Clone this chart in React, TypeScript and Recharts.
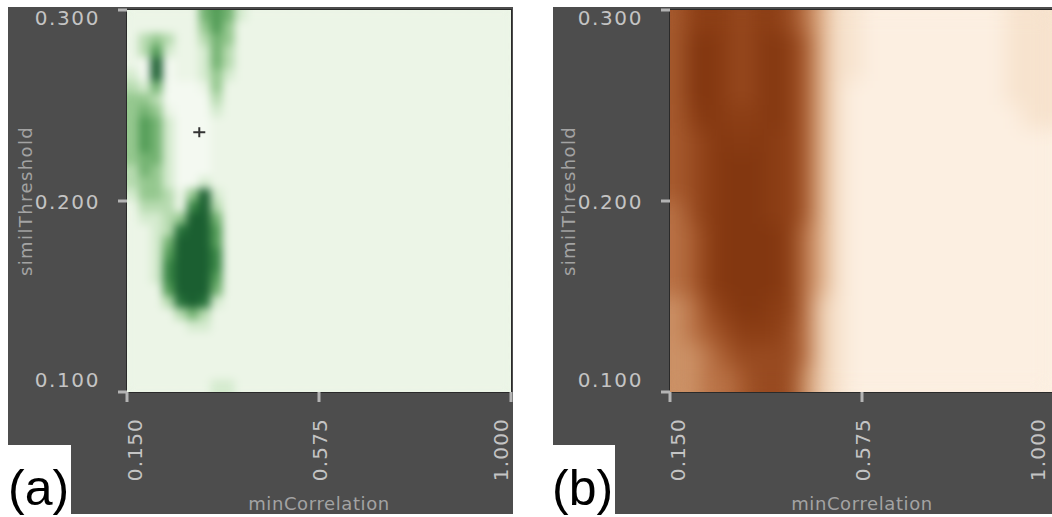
import { ReferenceArea, Scatter, ScatterChart, XAxis, YAxis } from 'recharts';

// axis ranges and ticks
const corrTicks = [0.15, 0.575, 1.0];
const threshTicks = [0.1, 0.2, 0.3];

// (a) 32 x 32 cells, top row first, one digit = colour level 0..9
const gridA = [
  '11111156521111111111111111111111',
  '11111146411111111111111111111111',
  '13431135411111111111111111111111',
  '13621125311111111111111111111111',
  '10901125311111111111111111111111',
  '20901124211111111111111111111111',
  '32500014111111111111111111111111',
  '44300003111111111111111111111111',
  '45410002111111111111111111111111',
  '46520001111111111111111111111111',
  '46520001111111111111111111111111',
  '46520001111111111111111111111111',
  '45520001111111111111111111111111',
  '35420001111111111111111111111111',
  '34420021111111111111111111111111',
  '24431492111111111111111111111111',
  '13331793111111111111111111111111',
  '12234995111111111111111111111111',
  '11238996111111111111111111111111',
  '11259996111111111111111111111111',
  '11269997111111111111111111111111',
  '11279997111111111111111111111111',
  '11279996111111111111111111111111',
  '11169995111111111111111111111111',
  '11138982111111111111111111111111',
  '11113531111111111111111111111111',
  '11111221111111111111111111111111',
  '11111111111111111111111111111111',
  '11111111111111111111111111111111',
  '11111111111111111111111111111111',
  '11111111111111111111111111111111',
  '11111112211111111111111111111111',
];

// (b) 24 x 16 cells
const gridB = [
  '688878875311000000000111',
  '699878986311000000000111',
  '699878986311000000000111',
  '699878986310000000000111',
  '689888986310000000000011',
  '678989886310000000000000',
  '678999886310000000000000',
  '678999886310000000000000',
  '578999886310000000000000',
  '568999985310000000000000',
  '568999985310000000000000',
  '568999985310000000000000',
  '457899885210000000000000',
  '456788875210000000000000',
  '445677775210000000000000',
  '445567774210000000000000',
];

const markerA = [{ x: 0.31, y: 0.236 }];

const greens = ['#f4f9f1', '#ecf5e7', '#d5ebcf', '#b7dbb0', '#95c88f', '#74b372', '#549d58', '#3a8746', '#27723a', '#1b5f31'];
const browns = ['#fcefe1', '#f7e3ce', '#eecfb2', '#dfb08a', '#cb9065', '#b97246', '#a75b2f', '#984a20', '#8c3e15', '#833710'];

const PLOT_W = 384;
const PLOT_H = 382;
const TOP = 3;
const X_AXIS_H = 122;
const RIGHT = 2;
const TICK_COLOR = '#c4c4c4';
const TITLE_COLOR = '#a3a3a3';
const FONT = '"DejaVu Sans", sans-serif';

function cellsFrom(rows: string[]) {
  return rows.flatMap((row, r) =>
    row.split('').map((ch, c) => ({
      x: 0.15 + ((c + 0.5) * 0.85) / row.length,
      y: 0.3 - ((r + 0.5) * 0.2) / rows.length,
      v: Number(ch),
    }))
  );
}

const yShift: Record<string, number> = { '0.1': -5, '0.2': 8, '0.3': 15 };

function CorrTick(props: any) {
  const { x, payload, index, shifts } = props;
  const bx = x + shifts[index];
  const by = TOP + PLOT_H + 26;
  return (
    <text
      transform={`translate(${bx},${by}) rotate(-90)`}
      textAnchor="end"
      fill={TICK_COLOR}
      fontSize={20}
      letterSpacing={1.2}
      fontFamily={FONT}
    >
      {Number(payload.value).toFixed(3)}
    </text>
  );
}

function ThreshTick(props: any) {
  const { y, payload, left } = props;
  return (
    <text
      x={left - 27}
      y={y + (yShift[String(payload.value)] ?? 7)}
      textAnchor="end"
      fill={TICK_COLOR}
      fontSize={20}
      letterSpacing={1.6}
      fontFamily={FONT}
    >
      {Number(payload.value).toFixed(3)}
    </text>
  );
}

function Cross(props: any) {
  const { cx, cy } = props;
  return (
    <g stroke="#333" strokeWidth={2}>
      <line x1={cx - 6} y1={cy} x2={cx + 6} y2={cy} />
      <line x1={cx} y1={cy - 5} x2={cx} y2={cy + 5} />
    </g>
  );
}

type PanelProps = {
  id: string;
  rows: string[];
  colors: string[];
  blur: number;
  yAxisWidth: number;
  left: number;
  shifts: number[];
  marker?: { x: number; y: number }[];
};

function Panel({ id, rows, colors, blur, yAxisWidth, left, shifts, marker }: PanelProps) {
  const data = cellsFrom(rows);
  const cw = PLOT_W / rows[0].length;
  const ch = PLOT_H / rows.length;
  const width = yAxisWidth + PLOT_W + RIGHT;
  const height = TOP + PLOT_H + X_AXIS_H;

  const cell = (p: any) => (
    <rect
      x={p.cx - cw / 2 - 0.5}
      y={p.cy - ch / 2 - 0.5}
      width={cw + 1}
      height={ch + 1}
      fill={colors[p.payload.v]}
    />
  );

  return (
    <div style={{ position: 'absolute', left, top: 7, width, height, background: '#4d4d4d' }}>
      <svg width={0} height={0} style={{ position: 'absolute' }}>
        <defs>
          <filter
            id={`blur-${id}`}
            filterUnits="userSpaceOnUse"
            x={yAxisWidth}
            y={TOP}
            width={PLOT_W}
            height={PLOT_H}
            colorInterpolationFilters="sRGB"
          >
            <feGaussianBlur stdDeviation={blur} />
            <feComponentTransfer>
              <feFuncA type="table" tableValues="1 1" />
            </feComponentTransfer>
          </filter>
        </defs>
      </svg>
      <style>{`.heat-${id} { filter: url(#blur-${id}); }`}</style>
      <ScatterChart width={width} height={height} margin={{ top: TOP, right: RIGHT, bottom: 0, left: 0 }}>
        <XAxis
          type="number"
          dataKey="x"
          domain={[0.15, 1]}
          ticks={corrTicks}
          interval={0}
          allowDataOverflow
          height={X_AXIS_H}
          axisLine={false}
          tickSize={10}
          tickLine={{ stroke: '#b4b4b4', strokeWidth: 3 }}
          tick={(p: any) => <CorrTick {...p} shifts={shifts} />}
          label={() => (
            <text
              x={yAxisWidth + PLOT_W / 2}
              y={TOP + PLOT_H + X_AXIS_H - 4}
              textAnchor="middle"
              fill={TITLE_COLOR}
              fontSize={18}
              letterSpacing={0.6}
              fontFamily={FONT}
            >
              minCorrelation
            </text>
          )}
        />
        <YAxis
          type="number"
          dataKey="y"
          domain={[0.1, 0.3]}
          ticks={threshTicks}
          interval={0}
          allowDataOverflow
          width={yAxisWidth}
          axisLine={false}
          tickSize={9}
          tickLine={{ stroke: '#b4b4b4', strokeWidth: 3 }}
          tick={(p: any) => <ThreshTick {...p} left={yAxisWidth} />}
          label={() => (
            <text
              transform={`translate(${yAxisWidth - 95},${TOP + PLOT_H / 2}) rotate(-90)`}
              textAnchor="middle"
              fill={TITLE_COLOR}
              fontSize={18}
              letterSpacing={1.4}
              fontFamily={FONT}
            >
              similThreshold
            </text>
          )}
        />
        <Scatter className={`heat-${id}`} data={data} shape={cell} isAnimationActive={false} />
        <ReferenceArea x1={0.15} x2={1} y1={0.1} y2={0.3} fill="none" stroke="#2a2a2a" strokeWidth={2} />
        {marker && <Scatter data={marker} shape={<Cross />} isAnimationActive={false} />}
      </ScatterChart>
    </div>
  );
}

function Tag({ left, width, text }: { left: number; width: number; text: string }) {
  return (
    <svg width={width} height={72} style={{ position: 'absolute', left, top: 445 }}>
      <rect width={width} height={72} fill="#fff" />
      <text x={width - 63} y={60} fontSize={50} fill="#000" fontFamily='"Liberation Sans", Arial, sans-serif'>
        {text}
      </text>
    </svg>
  );
}

export default function App() {
  return (
    <div style={{ position: 'absolute', left: 0, top: 0, width: 1052, height: 517, overflow: 'hidden', background: '#fff' }}>
      <Panel id="a" rows={gridA} colors={greens} blur={4.5} yAxisWidth={119} left={8} shifts={[15, 8, -3]} marker={markerA} />
      <Panel id="b" rows={gridB} colors={browns} blur={10} yAxisWidth={117} left={553} shifts={[15, 8, -9]} />
      <Tag left={0} width={71} text="(a)" />
      <Tag left={540} width={75} text="(b)" />
    </div>
  );
}
